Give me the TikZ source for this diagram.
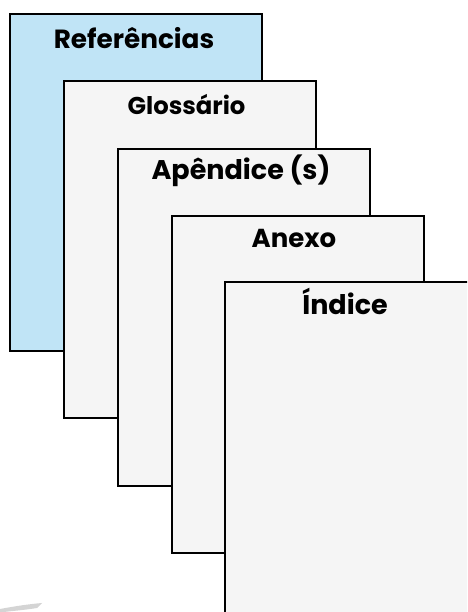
\documentclass[tikz,border=0pt]{standalone}
\usepackage{fontspec}
\newfontfamily\pagefont{Poppins}
\definecolor{pageblue}{HTML}{C0E4F6}
\definecolor{pagegray}{HTML}{F5F5F5}
\definecolor{swoosh}{HTML}{D4D4D4}
\newcommand\headsize[1]{\pagefont\bfseries\fontsize{#1}{#1}\selectfont}
\begin{document}
\begin{tikzpicture}[x=1pt,y=1pt,
  page/.style={draw=black, line width=2.6pt, minimum width=252pt,
    minimum height=337pt, anchor=north west, inner sep=0pt, outer sep=0pt},
  title/.style={anchor=base, inner sep=0pt}]
  \useasboundingbox (0,0) rectangle (467,612);
  \begin{scope}
    \clip (0,0) rectangle (467,612);
    % stacked pages, back to front
    \node[page, fill=pageblue] (ref) at (10,598) {};
    \node[page, fill=pagegray] (glo) at (64,531) {};
    \node[page, fill=pagegray] (ape) at (118,463) {};
    \node[page, fill=pagegray] (ane) at (172,396) {};
    \node[page, fill=pagegray] (ind) at (225,330) {};
    % faint mark in the lower-left corner
    \fill[swoosh] (0,0) -- (0,3) .. controls (16,6) and (30,8) .. (42,9)
      -- (37,4) .. controls (25,2) and (12,1) .. (4,0) -- cycle;
  \end{scope}
  % page headings
  \node[title, font=\headsize{26.3}]
    (tref) at ([xshift=-2pt,yshift=-35pt]ref.north) {Referências};
  \node[title, font=\headsize{24.3}]
    (tglo) at ([xshift=-3.5pt,yshift=-34pt]glo.north) {Glossário};
  \node[title, font=\headsize{27}]
    (tape) at ([xshift=-3pt,yshift=-31pt]ape.north) {Apêndice (s)};
  \node[title, font=\headsize{26}]
    (tane) at ([xshift=-4pt,yshift=-32pt]ane.north) {Anexo};
  \node[title, font=\headsize{27}]
    (tind) at ([xshift=-6pt,yshift=-33pt]ind.north) {Índice};
\end{tikzpicture}
\end{document}
